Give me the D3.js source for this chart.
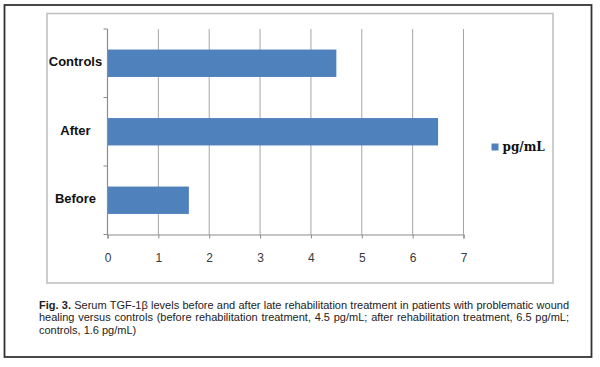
<!DOCTYPE html>
<html>
<head>
<meta charset="utf-8">
<script src="https://cdn.jsdelivr.net/npm/d3@7"></script>
<style>
  html, body { margin: 0; padding: 0; background: #fff; }
  #wrap { position: relative; width: 600px; height: 367px; overflow: hidden; }
  svg { position: absolute; left: 0; top: 0; }
  .cap { position: absolute; left: 39px; width: 530px; font-family: "Liberation Sans", Arial, sans-serif;
         font-size: 11px; color: #222; white-space: nowrap; }
  .just { text-align: justify; text-align-last: justify; white-space: normal; }
</style>
</head>
<body>
<div id="wrap">
  <svg id="chart" width="600" height="367"></svg>
</div>
<script>
const categories = ["Controls", "After", "Before"];
const values = [4.5, 6.5, 1.6];
const xTickValues = [0, 1, 2, 3, 4, 5, 6, 7];
const seriesName = "pg/mL";
const captionLines = [
  ["Fig. 3.", " Serum TGF-1\u03b2 levels before and after late rehabilitation treatment in patients with problematic wound"],
  ["", "healing versus controls (before rehabilitation treatment, 4.5 pg/mL; after rehabilitation treatment, 6.5 pg/mL;"],
  ["", "controls, 1.6 pg/mL)"]
];

const svg = d3.select("#chart");

// outer frame
svg.append("rect").attr("x", 4.5).attr("y", 5).attr("width", 587).attr("height", 352)
  .attr("fill", "none").attr("stroke", "#333").attr("stroke-width", 1.8);
// chart area frame
svg.append("rect").attr("x", 47).attr("y", 13.5).attr("width", 506).attr("height", 269.5)
  .attr("fill", "#fff").attr("stroke", "#bdbdbd").attr("stroke-width", 1.5);

const x = d3.scaleLinear().domain([0, 7]).range([107.5, 463.5]);
const y = d3.scaleBand().domain(categories).range([29, 234.5]).padding(0);

// gridlines
svg.append("g").selectAll("line").data(xTickValues.filter(d => d > 0)).join("line")
  .attr("x1", d => x(d)).attr("x2", d => x(d))
  .attr("y1", y.range()[0]).attr("y2", y.range()[1])
  .attr("stroke", "#a6a6a6").attr("stroke-width", 1);

// bars (bar thickness = band / 2.5, Excel gap width 150%)
const barH = y.bandwidth() / 2.5;
svg.append("g").selectAll("rect").data(categories).join("rect")
  .attr("x", x(0))
  .attr("y", (d) => y(d) + (y.bandwidth() - barH) / 2)
  .attr("width", (d, i) => x(values[i]) - x(0))
  .attr("height", barH)
  .attr("fill", "#4f81bd");

// x axis
const xAxis = d3.axisBottom(x).tickValues(xTickValues).tickSize(4).tickPadding(15).tickFormat(d3.format("d"));
const gx = svg.append("g").attr("transform", `translate(0,${y.range()[1]})`).call(xAxis);
gx.select(".domain").attr("stroke", "#8c8c8c").attr("stroke-width", 1.2);
gx.selectAll(".tick line").attr("stroke", "#8c8c8c");
gx.selectAll("text").attr("font-family", "'Liberation Sans', Arial, sans-serif").attr("font-size", 12).attr("fill", "#3a3a3a");

// y axis: ticks at band boundaries
const boundaries = [y.range()[0], ...categories.map(c => y(c) + y.bandwidth())];
svg.append("line").attr("x1", x(0)).attr("x2", x(0)).attr("y1", y.range()[0]).attr("y2", y.range()[1])
  .attr("stroke", "#8c8c8c").attr("stroke-width", 1.2);
svg.append("g").selectAll("line").data(boundaries).join("line")
  .attr("x1", x(0) - 4).attr("x2", x(0)).attr("y1", d => d).attr("y2", d => d)
  .attr("stroke", "#8c8c8c");
svg.append("g").selectAll("text").data(categories).join("text")
  .attr("x", x(0) - 32)
  .attr("y", d => y(d) + y.bandwidth() / 2 - 1.5)
  .attr("dy", "0.35em")
  .attr("text-anchor", "middle")
  .attr("font-family", "'Liberation Sans', Arial, sans-serif")
  .attr("font-weight", "bold").attr("font-size", 13).attr("fill", "#111")
  .text(d => d);

// legend
const lg = svg.append("g").attr("transform", "translate(491.5,143.5)");
lg.append("rect").attr("width", 7).attr("height", 7).attr("fill", "#4f81bd");
lg.append("text").attr("x", 11).attr("y", 3.5).attr("dy", "0.35em")
  .attr("font-family", "'DejaVu Serif', 'Liberation Serif', serif").attr("font-weight", "bold")
  .attr("font-size", 12).attr("fill", "#111").text(seriesName);

// caption
const wrap = d3.select("#wrap");
captionLines.forEach((ln, i) => {
  const div = wrap.append("div").attr("class", "cap" + (i < 2 ? " just" : ""))
    .style("top", (298.5 + i * 12.7) + "px");
  if (ln[0]) div.append("b").text(ln[0]);
  div.append("span").text(ln[1]);
});
</script>
</body>
</html>
